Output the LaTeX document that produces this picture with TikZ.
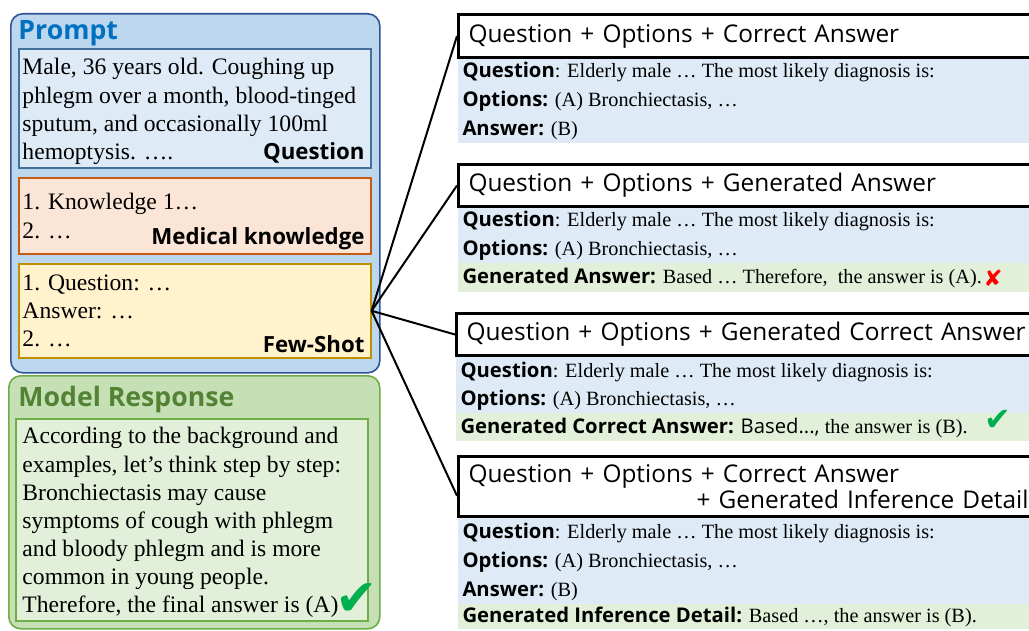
\documentclass[tikz,border=0pt]{standalone}
\usepackage{fontspec}
\setmainfont{Liberation Serif}
\setsansfont{Open Sans}
\newfontfamily\symfont{DejaVu Sans}

\definecolor{promptfill}{RGB}{189,215,238}
\definecolor{promptedge}{RGB}{47,85,151}
\definecolor{prompttitle}{RGB}{0,112,192}
\definecolor{qfill}{RGB}{222,235,247}
\definecolor{qedge}{RGB}{65,113,156}
\definecolor{kfill}{RGB}{251,229,214}
\definecolor{kedge}{RGB}{197,90,17}
\definecolor{ffill}{RGB}{255,242,204}
\definecolor{fedge}{RGB}{191,144,0}
\definecolor{mfill}{RGB}{197,224,180}
\definecolor{medge}{RGB}{112,173,71}
\definecolor{mtitle}{RGB}{84,130,53}
\definecolor{gfill}{RGB}{226,240,217}
\definecolor{okgreen}{RGB}{0,176,80}
\definecolor{badred}{RGB}{255,0,0}

\tikzset{every picture/.style={line width=0.75pt}}
\tikzset{
  outerbox/.style={rounded corners=9pt, line width=1.2pt, anchor=north west, inner sep=0pt},
  innerbox/.style={line width=1.2pt, anchor=north west, inner sep=0pt},
  bodytext/.style={anchor=north west, inner sep=0pt, align=left, font=\fontsize{17.7}{21.2}\selectfont},
  tagtext/.style={anchor=base east, inner sep=0pt, font=\sffamily\bfseries\fontsize{16.7}{20}\selectfont},
  titletext/.style={anchor=base west, inner sep=0pt, font=\sffamily\bfseries\fontsize{20}{24}\selectfont},
  hdrbox/.style={draw, line width=2.25pt, fill=white, anchor=north west, inner xsep=7.5pt, text width=450pt, align=left, font=\sffamily\fontsize{18.3}{19.5}\selectfont},
  rowfill/.style={anchor=north west, inner sep=0pt, minimum width=437.25pt},
  rowtext/.style={anchor=base west, inner sep=0pt, font=\fontsize{15.2}{18}\selectfont},
  link/.style={line width=1.5pt}
}
\newcommand{\lbl}[1]{{\sffamily\bfseries #1}}

\begin{document}
\begin{tikzpicture}[x=0.75pt,y=0.75pt,yscale=-1,xscale=1]
\useasboundingbox (0,0) rectangle (1029,631);

%Prompt panel
\node [outerbox, draw=promptedge, fill=promptfill, minimum width=276.75pt, minimum height=269.25pt] (prompt) at (10,13) {};
\node [titletext, text=prompttitle] (prompttitle) at (18,40) {Prompt};
\node [innerbox, draw=qedge, fill=qfill, minimum width=264pt, minimum height=89.25pt] (qbox) at (18,48) {};
\node [bodytext] (qtext) at (22,58) {Male, 36 years old. Coughing up\\phlegm over a month, blood-tinged\\sputum, and occasionally 100ml\\hemoptysis. ….};
\node [tagtext] (qtag) at (365,160) {Question};
\node [innerbox, draw=kedge, fill=kfill, minimum width=264pt, minimum height=57pt] (kbox) at (18,177) {};
\node [bodytext] (ktext) at (22,193) {1. Knowledge 1…\\2. …};
\node [tagtext] (ktag) at (365,245) {Medical knowledge};
\node [innerbox, draw=fedge, fill=ffill, minimum width=264pt, minimum height=70.5pt] (fewshot) at (18,263) {};
\node [bodytext] (ftext) at (22,274) {1. Question: …\\Answer: …\\2. …};
\node [tagtext] (ftag) at (365,352) {Few-Shot};

%Model response panel
\node [outerbox, draw=medge, fill=mfill, minimum width=278.25pt, minimum height=189.75pt] (model) at (8,375) {};
\node [titletext, text=mtitle] (modeltitle) at (18,406) {Model Response};
\node [innerbox, draw=medge, fill=gfill, minimum width=264pt, minimum height=151.5pt] (mbox) at (15,418) {};
\node [bodytext, font=\fontsize{17.7}{21.1}\selectfont] (mtext) at (22,427) {According to the background and\\examples, let's think step by step:\\Bronchiectasis may cause\\symptoms of cough with phlegm\\and bloody phlegm and is more\\common in young people.\\Therefore, the final answer is (A)};
\node [text=okgreen, inner sep=0pt, font=\symfont\fontsize{38}{38}\selectfont] (mcheck) at (357,600) {✔};

%Panel A
\node [rowfill, fill=qfill, minimum height=64.5pt] (rowA) at (457,57) {};
\node [rowtext] (a1) at (462,78) {\lbl{Question}: Elderly male … The most likely diagnosis is:};
\node [rowtext] (a2) at (462,107) {\lbl{Options:} (A) Bronchiectasis, …};
\node [rowtext] (a3) at (462,136) {\lbl{Answer:} (B)};
\node [hdrbox, minimum height=32.25pt] (hdrA) at (457,13) {Question + Options + Correct Answer};

%Panel B
\node [rowfill, fill=qfill, minimum height=42.75pt] (rowB) at (457,206) {};
\node [rowfill, fill=gfill, minimum height=21.75pt] (rowBg) at (457,263) {};
\node [rowtext] (b1) at (462,227) {\lbl{Question}: Elderly male … The most likely diagnosis is:};
\node [rowtext] (b2) at (462,256) {\lbl{Options:} (A) Bronchiectasis, …};
\node [rowtext] (b3) at (462,284) {\lbl{Generated Answer:} Based … Therefore,\ \ the answer is (A).};
\node [text=badred, inner sep=0pt, font=\symfont\fontsize{17}{17}\selectfont] (bcross) at (993,278) {✘};
\node [hdrbox, minimum height=31.5pt] (hdrB) at (457,163) {Question + Options + Generated Answer};

%Panel C
\node [rowfill, fill=qfill, minimum height=42pt] (rowC) at (455,356) {};
\node [rowfill, fill=gfill, minimum height=21pt] (rowCg) at (455,412) {};
\node [rowtext] (c1) at (460,377) {\lbl{Question}: Elderly male … The most likely diagnosis is:};
\node [rowtext] (c2) at (460,405) {\lbl{Options:} (A) Bronchiectasis, …};
\node [rowtext] (c3) at (460,433) {\lbl{Generated Correct Answer:} {\sffamily Based...,} the answer is (B).};
\node [text=okgreen, inner sep=0pt, font=\symfont\fontsize{24}{24}\selectfont] (ccheck) at (998,420) {✔};
\node [hdrbox, minimum height=31.5pt] (hdrC) at (455,312) {Question + Options + Generated Correct Answer};

%Panel D
\node [rowfill, fill=qfill, minimum height=64.5pt] (rowD) at (457,517) {};
\node [rowfill, fill=gfill, minimum height=18.75pt] (rowDg) at (457,603) {};
\node [rowtext] (d1) at (462,538) {\lbl{Question}: Elderly male … The most likely diagnosis is:};
\node [rowtext] (d2) at (462,567) {\lbl{Options:} (A) Bronchiectasis, …};
\node [rowtext] (d3) at (462,596) {\lbl{Answer:} (B)};
\node [rowtext] (d4) at (462,622) {\lbl{Generated Inference Detail:} Based …, the answer is (B).};
\node [hdrbox, text width=420pt, minimum height=45pt] (hdrD) at (457,455) {Question + Options + Correct Answer\\\hspace*{\fill}+ Generated Inference Detail};

%Links
\draw [link] (fewshot.east) -- (hdrA.west);
\draw [link] (fewshot.east) -- (hdrB.west);
\draw [link] (fewshot.east) -- (hdrC.west);
\draw [link] (fewshot.east) -- ([yshift=7pt]hdrD.west);

\end{tikzpicture}
\end{document}
